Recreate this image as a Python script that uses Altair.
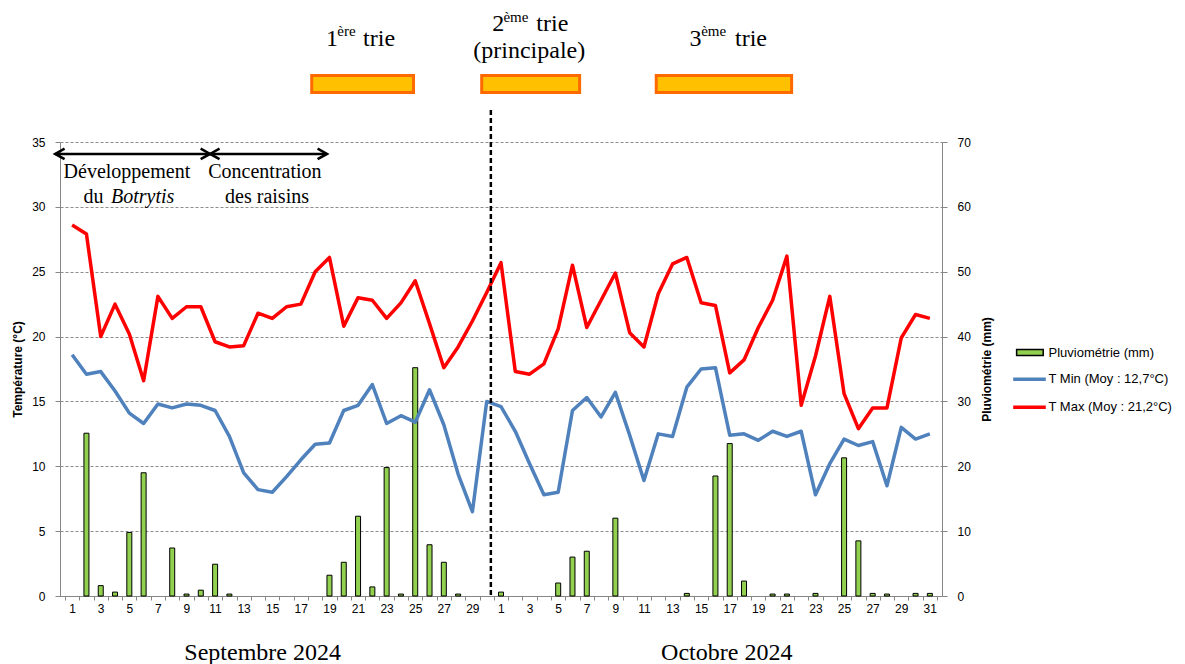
import altair as alt
import pandas as pd

# ---------------- data ----------------
tmax_sep = [28.6, 27.9, 20.0, 22.5, 20.2, 16.6, 23.1, 21.4, 22.3, 22.3,
            19.6, 19.2, 19.3, 21.8, 21.4, 22.3, 22.5, 25.0, 26.1, 20.8,
            23.0, 22.8, 21.4, 22.6, 24.3, 21.0, 17.6, 19.2, 21.2, 23.4]
tmax_oct = [25.7, 17.3, 17.1, 17.9, 20.6, 25.5, 20.7, 22.8, 24.9, 20.3,
            19.2, 23.3, 25.6, 26.1, 22.6, 22.4, 17.2, 18.2, 20.7, 22.8,
            26.2, 14.7, 18.5, 23.1, 15.6, 12.9, 14.5, 14.5, 19.9, 21.7, 21.4]
tmin_sep = [18.6, 17.1, 17.3, 15.8, 14.1, 13.3, 14.8, 14.5, 14.8, 14.7,
            14.3, 12.3, 9.5, 8.2, 8.0, 9.2, 10.5, 11.7, 11.8, 14.3,
            14.7, 16.3, 13.3, 13.9, 13.4, 15.9, 13.2, 9.4, 6.5, 15.0]
tmin_oct = [14.6, 12.7, 10.2, 7.8, 8.0, 14.3, 15.3, 13.8, 15.7, 12.4,
            8.9, 12.5, 12.3, 16.1, 17.5, 17.6, 12.4, 12.5, 12.0, 12.7,
            12.3, 12.7, 7.8, 10.2, 12.1, 11.6, 11.9, 8.5, 13.0, 12.1, 12.5]
rain_sep = [0, 25.1, 1.6, 0.6, 9.8, 19.0, 0, 7.4, 0.3, 0.9,
            4.9, 0.3, 0, 0, 0, 0, 0, 0, 3.2, 5.2,
            12.3, 1.4, 19.8, 0.3, 35.2, 7.9, 5.2, 0.3, 0, 0]
rain_oct = [0.6, 0, 0, 0, 2.0, 6.0, 6.9, 0, 12.0, 0,
            0, 0, 0, 0.4, 0, 18.5, 23.5, 2.3, 0, 0.3,
            0.3, 0, 0.4, 0, 21.3, 8.5, 0.4, 0.3, 0, 0.4, 0.4]

legend_labels = ["Pluviométrie (mm)", "T Min (Moy : 12,7°C)", "T Max (Moy : 21,2°C)"]
month_labels = ["Septembre 2024", "Octobre 2024"]
phase_labels = ["Développement", "du", "Botrytis", "Concentration", "des raisins"]

n_days = len(tmax_sep) + len(tmax_oct)
df = pd.DataFrame({
    "idx": list(range(1, n_days + 1)),
    "tmax": tmax_sep + tmax_oct,
    "tmin": tmin_sep + tmin_oct,
    "rain": rain_sep + rain_oct,
})

# ---------------- annotations (in data units: day index / °C) ----------------
title_df = pd.DataFrame({
    "x": [18.76, 19.55, 21.35, 30.38, 31.17, 33.47, 29.06, 44.19, 45.00, 47.37],
    "y": [42.40, 43.20, 42.40, 43.58, 44.25, 43.58, 41.48, 42.40, 43.20, 42.40],
    "text": ["1", "ère", "trie", "2", "ème", "trie", "(principale)", "3", "ème", "trie"],
    "fs": [24, 15, 24, 24, 15, 24, 24, 24, 15, 24],
})
box_df = pd.DataFrame({
    "x": [17.76, 29.65, 41.86], "x2": [24.88, 36.50, 51.33],
    "y": [40.13] * 3, "y2": [38.82] * 3,
})
phase_df = pd.DataFrame({
    "x": [0.40, 1.80, 10.52, 11.70],
    "y": [32.20, 30.28, 32.20, 30.28],
    "text": [phase_labels[0], phase_labels[1], phase_labels[3], phase_labels[4]],
})
italic_df = pd.DataFrame({"x": [3.72], "y": [30.28], "text": [phase_labels[2]]})
arrow_df = pd.DataFrame({"x": [-0.19, 10.65], "x2": [10.65, 18.83], "y": [34.08, 34.08]})
head_df = pd.DataFrame({"x": [-0.19, 10.65, 10.65, 18.83], "y": [34.08] * 4,
                        "dir": ["L", "R", "L", "R"]})
vline_df = pd.DataFrame({"x": [30.29], "y": [37.47], "y2": [0.0]})
month_df = pd.DataFrame({"x": [8.85, 42.20], "y": [-4.93, -4.93], "text": month_labels})
leg_rect_df = pd.DataFrame({"x": [67.07], "x2": [68.93], "y": [19.00], "y2": [18.54]})
leg_line_df = pd.DataFrame({"x": [66.83, 66.83], "x2": [69.11, 69.11], "y": [16.71, 14.55],
                            "c": ["#4F81BD", "#FF0000"]})
leg_text_df = pd.DataFrame({"x": [69.3] * 3, "y": [18.71, 16.71, 14.55], "text": legend_labels})

# ---------------- scales / axes ----------------
def xs():
    return alt.Scale(domain=[0.5, n_days + 0.5], nice=False, zero=False)

def ys():
    return alt.Scale(domain=[0, 35], nice=False, zero=False)

yr = alt.Scale(domain=[0, 70], nice=False, zero=False)
band = 882 / n_days

x_axis = alt.Axis(
    orient="bottom",
    values=[i + 0.5 for i in range(n_days + 1)],
    labelExpr=("datum.value < 1 ? '' : (datum.value < 31 ? "
               "((datum.value - 0.5) % 2 == 1 ? format(datum.value - 0.5, 'd') : '') : "
               "((datum.value - 30.5) % 2 == 1 ? format(datum.value - 30.5, 'd') : ''))"),
    labelOffset=-band / 2, labelOverlap=False, labelFlush=False, labelBound=False,
    labelAngle=0, labelPadding=3, labelFontSize=12, labelFont="Liberation Sans",
    labelColor="black", tickSize=4, tickColor="#868686", domainColor="#868686",
    grid=False, title=None,
)
y_axis = alt.Axis(
    orient="left", values=list(range(0, 36, 5)), grid=True, gridDash=[3, 2],
    gridColor="#8c8c8c", gridWidth=1, domainColor="#868686", tickColor="#868686",
    tickSize=5, labelPadding=10, labelFontSize=12, labelFont="Liberation Sans",
    labelColor="black", title="Température (°C)", titleFont="Liberation Sans",
    titleFontSize=12, titleFontWeight="bold", titleColor="black", titlePadding=7,
)
yr_axis = alt.Axis(
    orient="right", values=list(range(0, 71, 10)), grid=False,
    domainColor="#868686", tickColor="#868686", tickSize=5,
    labelPadding=10, labelFontSize=12, labelFont="Liberation Sans", labelColor="black",
    title="Pluviométrie (mm)", titleFont="Liberation Sans", titleFontSize=12,
    titleFontWeight="bold", titleColor="black", titlePadding=11, titleAngle=270,
    titleBaseline="top",
)

def X(f):
    # every layer shares the same x scale and the same (identical) x axis spec
    return alt.X(f, scale=xs(), axis=x_axis)

def Y(f):
    return alt.Y(f, scale=ys(), axis=None)

# ---------------- layers ----------------
rain_layer = alt.Chart(df[df["rain"] > 0]).mark_bar(
    size=5, color="#92D050", stroke="black", strokeWidth=1
).encode(x=X("idx:Q"), y=alt.Y("rain:Q", scale=yr, axis=yr_axis))

tmin_line = alt.Chart(df).mark_line(color="#4F81BD", strokeWidth=3.5, strokeJoin="round").encode(
    x=X("idx:Q"), y=alt.Y("tmin:Q", scale=ys(), axis=y_axis))
tmax_line = alt.Chart(df).mark_line(color="#FF0000", strokeWidth=3.5, strokeJoin="round").encode(
    x=X("idx:Q"), y=Y("tmax:Q"))

vline = alt.Chart(vline_df).mark_rule(color="black", strokeWidth=2.5, strokeDash=[5, 3]).encode(
    x=X("x:Q"), y=Y("y:Q"), y2="y2:Q")

boxes = alt.Chart(box_df).mark_rect(fill="#FFC000", stroke="#FF6A00", strokeWidth=3).encode(
    x=X("x:Q"), x2="x2:Q", y=Y("y:Q"), y2="y2:Q")

titles = alt.Chart(title_df).mark_text(
    font="Liberation Serif", align="left", baseline="alphabetic", color="black"
).encode(x=X("x:Q"), y=Y("y:Q"), text="text:N", size=alt.Size("fs:Q", scale=None))

phases = alt.Chart(phase_df).mark_text(
    font="Liberation Serif", fontSize=20, align="left", baseline="alphabetic", color="black"
).encode(x=X("x:Q"), y=Y("y:Q"), text="text:N")
italic = alt.Chart(italic_df).mark_text(
    font="Liberation Serif", fontSize=20, fontStyle="italic", align="left",
    baseline="alphabetic", color="black"
).encode(x=X("x:Q"), y=Y("y:Q"), text="text:N")

arrows = alt.Chart(arrow_df).mark_rule(color="black", strokeWidth=2.5).encode(
    x=X("x:Q"), x2="x2:Q", y=Y("y:Q"))
heads = alt.Chart(head_df).mark_point(filled=False, color="black", strokeWidth=2.5, size=110, opacity=1).encode(
    x=X("x:Q"), y=Y("y:Q"),
    shape=alt.Shape("dir:N", scale=alt.Scale(domain=["L", "R"],
                    range=["M1.8,-1L0,0L1.8,1", "M-1.8,-1L0,0L-1.8,1"]), legend=None))

months = alt.Chart(month_df).mark_text(
    font="Liberation Serif", fontSize=24, align="left", baseline="alphabetic", color="black"
).encode(x=X("x:Q"), y=Y("y:Q"), text="text:N")

leg_rect = alt.Chart(leg_rect_df).mark_rect(fill="#92D050", stroke="black", strokeWidth=1.5).encode(
    x=X("x:Q"), x2="x2:Q", y=Y("y:Q"), y2="y2:Q")
leg_lines = alt.Chart(leg_line_df).mark_rule(strokeWidth=3.5).encode(
    x=X("x:Q"), x2="x2:Q", y=Y("y:Q"), color=alt.Color("c:N", scale=None))
leg_text = alt.Chart(leg_text_df).mark_text(
    font="Liberation Sans", fontSize=13, align="left", baseline="middle", color="black"
).encode(x=X("x:Q"), y=Y("y:Q"), text="text:N")

chart = alt.layer(
    rain_layer, tmin_line, tmax_line, vline, boxes, titles, phases, italic, arrows, heads,
    months, leg_rect, leg_lines, leg_text
).resolve_scale(y="independent").properties(
    width=882, height=454,
    autosize=alt.AutoSizeParams(type="none"),
    padding={"left": 52, "top": 134, "right": 235, "bottom": 70},
    background="white",
).configure_view(stroke=None)

chart.save("out.html", embed_options={"renderer": "svg", "actions": False})
